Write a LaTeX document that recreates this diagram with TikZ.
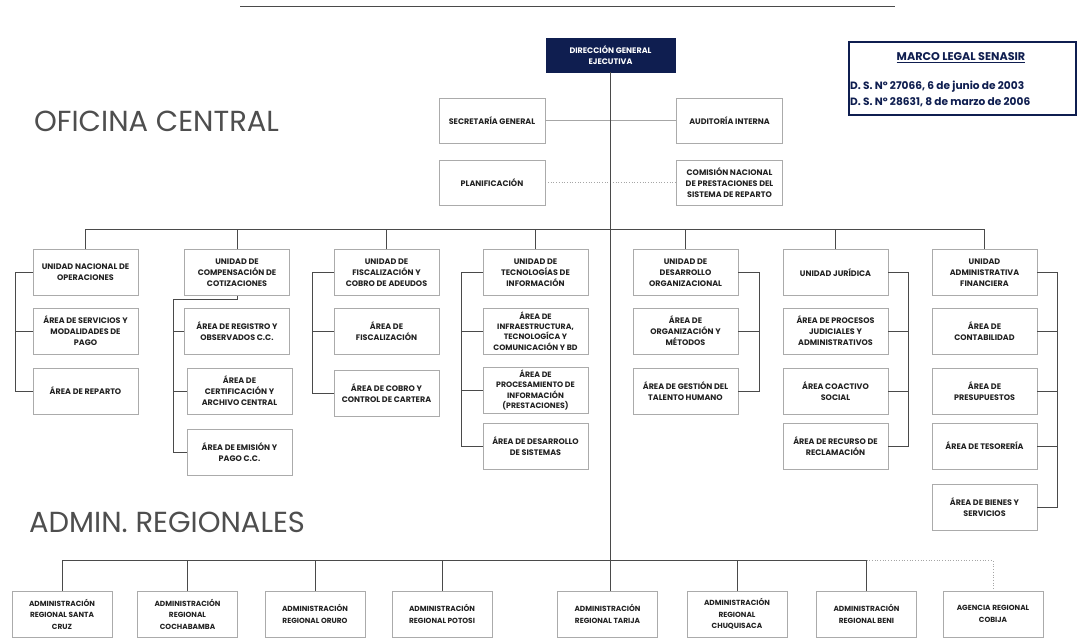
\documentclass[tikz,border=0pt]{standalone}
\usepackage{fontspec}
\setmainfont{Poppins}
\usetikzlibrary{calc,shadows}
\definecolor{navy}{HTML}{0F1E50}
\definecolor{txt}{HTML}{222222}
\definecolor{lin}{HTML}{4A4A4A}
\definecolor{bord}{HTML}{ABABAB}
\tikzset{
  box/.style={draw=bord, line width=0.7pt, fill=white, minimum width=105, minimum height=46,
    align=center, font=\fontsize{8}{10.9}\selectfont\bfseries, text=txt, inner sep=1pt,
    drop shadow={shadow xshift=0.8pt, shadow yshift=-0.8pt, fill=gray!35}},
  rbox/.style={box, minimum width=100, font=\fontsize{7.4}{11.5}\selectfont\bfseries},
  link/.style={draw=lin, line width=0.8pt},
  thinlink/.style={draw=gray!70, line width=0.6pt},
  dotlink/.style={draw=gray!70, line width=0.7pt, dotted},
  hdr/.style={anchor=west, font=\fontsize{29}{32}\selectfont, text=txt!80, inner sep=0pt},
  mline/.style={anchor=west, font=\fontsize{10.6}{12}\selectfont\bfseries, text=navy, inner sep=0pt},
}
\begin{document}
\begin{tikzpicture}[x=1pt,y=-1pt]
\clip (0,0) rectangle (1086,637);
\fill[white] (0,0) rectangle (1086,637);

% top rule
\draw[lin, line width=1pt] (240,6) -- (895,6);

% headings
\node[hdr] (h1) at (34,121) {OFICINA CENTRAL};
\node[hdr] (h2) at (29,522) {ADMIN. REGIONALES};

% marco legal
\node[draw=navy, line width=2.6pt, minimum width=227, minimum height=73, fill=white] (ml) at (962.5,78.5) {};
\node[font=\fontsize{11.2}{12}\selectfont\bfseries, text=navy] (mt) at (961,58) {\underline{MARCO LEGAL SENASIR}};
\node[mline] (m1) at (850,87) {D. S. Nº 27066, 6 de junio de 2003};
\node[mline] (m2) at (850,102) {D. S. Nº 28631, 8 de marzo de 2006};

% direction
\node[fill=navy, draw=navy, minimum width=129, minimum height=34, align=center, text=white,
  font=\fontsize{8}{10.5}\selectfont\bfseries, inner sep=1pt] (dge) at (610.5,55) {DIRECCIÓN GENERAL\\EJECUTIVA};

\node[box, minimum width=106, minimum height=45] (sg) at (492,120.5) {SECRETARÍA GENERAL};
\node[box, minimum width=106, minimum height=45] (ai) at (729.5,120.5) {AUDITORÍA INTERNA};
\node[box, minimum width=106, minimum height=45] (pl) at (492,182.5) {PLANIFICACIÓN};
\node[box, minimum width=106, minimum height=45] (cn) at (729.5,182.5) {COMISIÓN NACIONAL\\DE PRESTACIONES DEL\\SISTEMA DE REPARTO};

% units
\node[box] (u1) at (85.5,272.5) {UNIDAD NACIONAL DE\\OPERACIONES};
\node[box] (u2) at (237,272.5) {UNIDAD DE\\COMPENSACIÓN DE\\COTIZACIONES};
\node[box] (u3) at (386.5,272.5) {UNIDAD DE\\FISCALIZACIÓN Y\\COBRO DE ADEUDOS};
\node[box] (u4) at (535.5,272.5) {UNIDAD DE\\TECNOLOGÍAS DE\\INFORMACIÓN};
\node[box] (u5) at (685.5,272.5) {UNIDAD DE\\DESARROLLO\\ORGANIZACIONAL};
\node[box] (u6) at (835.5,272.5) {UNIDAD JURÍDICA};
\node[box] (u7) at (984.5,272.5) {UNIDAD\\ADMINISTRATIVA\\FINANCIERA};

% areas
\node[box] (s1a) at (85.5,331) {ÁREA DE SERVICIOS Y\\MODALIDADES DE\\PAGO};
\node[box] (s1b) at (85.5,391) {ÁREA DE REPARTO};

\node[box] (s2a) at (237,331) {ÁREA DE REGISTRO Y\\OBSERVADOS C.C.};
\node[box] (s2b) at (239.5,391) {ÁREA DE\\CERTIFICACIÓN Y\\ARCHIVO CENTRAL};
\node[box] (s2c) at (239.5,452) {ÁREA DE EMISIÓN Y\\PAGO C.C.};

\node[box] (s3a) at (386.5,331) {ÁREA DE\\FISCALIZACIÓN};
\node[box] (s3b) at (386.5,393) {ÁREA DE COBRO Y\\CONTROL DE CARTERA};

\node[box, font=\fontsize{7.8}{10.4}\selectfont\bfseries] (s4a) at (535.5,331) {ÁREA DE\\INFRAESTRUCTURA,\\TECNOLOGÍCA Y\\COMUNICACIÓN Y BD};
\node[box, font=\fontsize{7.8}{10.4}\selectfont\bfseries] (s4b) at (535.5,390) {ÁREA DE\\PROCESAMIENTO DE\\INFORMACIÓN\\(PRESTACIONES)};
\node[box] (s4c) at (535.5,446) {ÁREA DE DESARROLLO\\DE SISTEMAS};

\node[box] (s5a) at (685.5,331) {ÁREA DE\\ORGANIZACIÓN Y\\MÉTODOS};
\node[box] (s5b) at (685.5,391) {ÁREA DE GESTIÓN DEL\\TALENTO HUMANO};

\node[box] (s6a) at (835.5,331) {ÁREA DE PROCESOS\\JUDICIALES Y\\ADMINISTRATIVOS};
\node[box] (s6b) at (835.5,391) {ÁREA COACTIVO\\SOCIAL};
\node[box] (s6c) at (835.5,446) {ÁREA DE RECURSO DE\\RECLAMACIÓN};

\node[box] (s7a) at (984.5,331) {ÁREA DE\\CONTABILIDAD};
\node[box] (s7b) at (984.5,391) {ÁREA DE\\PRESUPUESTOS};
\node[box] (s7c) at (984.5,446) {ÁREA DE TESORERÍA};
\node[box] (s7d) at (984.5,507) {ÁREA DE BIENES Y\\SERVICIOS};

% regionals
\node[rbox] (r1) at (62,614) {ADMINISTRACIÓN\\REGIONAL SANTA\\CRUZ};
\node[rbox] (r2) at (187.5,614) {ADMINISTRACIÓN\\REGIONAL\\COCHABAMBA};
\node[rbox] (r3) at (315,614) {ADMINISTRACIÓN\\REGIONAL ORURO};
\node[rbox] (r4) at (442,614) {ADMINISTRACIÓN\\REGIONAL POTOSI};
\node[rbox] (r5) at (607.5,614) {ADMINISTRACIÓN\\REGIONAL TARIJA};
\node[rbox] (r6) at (737,614) {ADMINISTRACIÓN\\REGIONAL\\CHUQUISACA};
\node[rbox] (r7) at (866.5,614) {ADMINISTRACIÓN\\REGIONAL BENI};
\node[rbox] (r8) at (993,614) {AGENCIA REGIONAL\\COBIJA};

% ---- connectors ----
\draw[thinlink] (sg.east) -- (ai.west);
\draw[dotlink] (pl.east) -- (cn.west);
\draw[link] (dge.south) -- (dge.south |- r5.north);

% unit bus
\draw[link] (u1.north) -- ++(0,-20) -| (u7.north);
\foreach \u in {u2,u3,u4,u5,u6}{\draw[link] (\u.north) -- ++(0,-20);}

% col1 bracket (left)
\draw[link] (u1.west) -- ++(-17,0) coordinate (b1) |- (s1b.west);
\draw[link] (s1a.west) -- (s1a.west -| b1);
% col2 bracket
\coordinate (b2) at (173,299);
\draw[link] (u2.south) |- (b2) |- (s2c.west);
\draw[link] (s2a.west) -- (s2a.west -| b2);
\draw[link] (s2b.west) -- (s2b.west -| b2);
% col3 bracket (left)
\draw[link] (u3.west) -- ++(-21,0) coordinate (b3) |- (s3b.west);
\draw[link] (s3a.west) -- (s3a.west -| b3);
% col4 bracket (left)
\draw[link] (u4.west) -- ++(-21,0) coordinate (b4) |- (s4c.west);
\draw[link] (s4a.west) -- (s4a.west -| b4);
\draw[link] (s4b.west) -- (s4b.west -| b4);
% col5 bracket (right)
\draw[link] (u5.east) -- ++(21,0) coordinate (b5) |- (s5b.east);
\draw[link] (s5a.east) -- (s5a.east -| b5);
% col6 bracket (right)
\draw[link] (u6.east) -- ++(20,0) coordinate (b6) |- (s6c.east);
\draw[link] (s6a.east) -- (s6a.east -| b6);
\draw[link] (s6b.east) -- (s6b.east -| b6);
% col7 bracket (right)
\draw[link] (u7.east) -- ++(20,0) coordinate (b7) |- (s7d.east);
\draw[link] (s7a.east) -- (s7a.east -| b7);
\draw[link] (s7b.east) -- (s7b.east -| b7);
\draw[link] (s7c.east) -- (s7c.east -| b7);

% regional bus
\draw[link] (r1.north) -- ++(0,-30) coordinate (rb) -| (r7.north);
\foreach \r in {r2,r3,r4,r6}{\draw[link] (\r.north) -- ++(0,-30);}
\draw[dotlink] (rb -| r7.north) -| (r8.north);
\end{tikzpicture}
\end{document}
